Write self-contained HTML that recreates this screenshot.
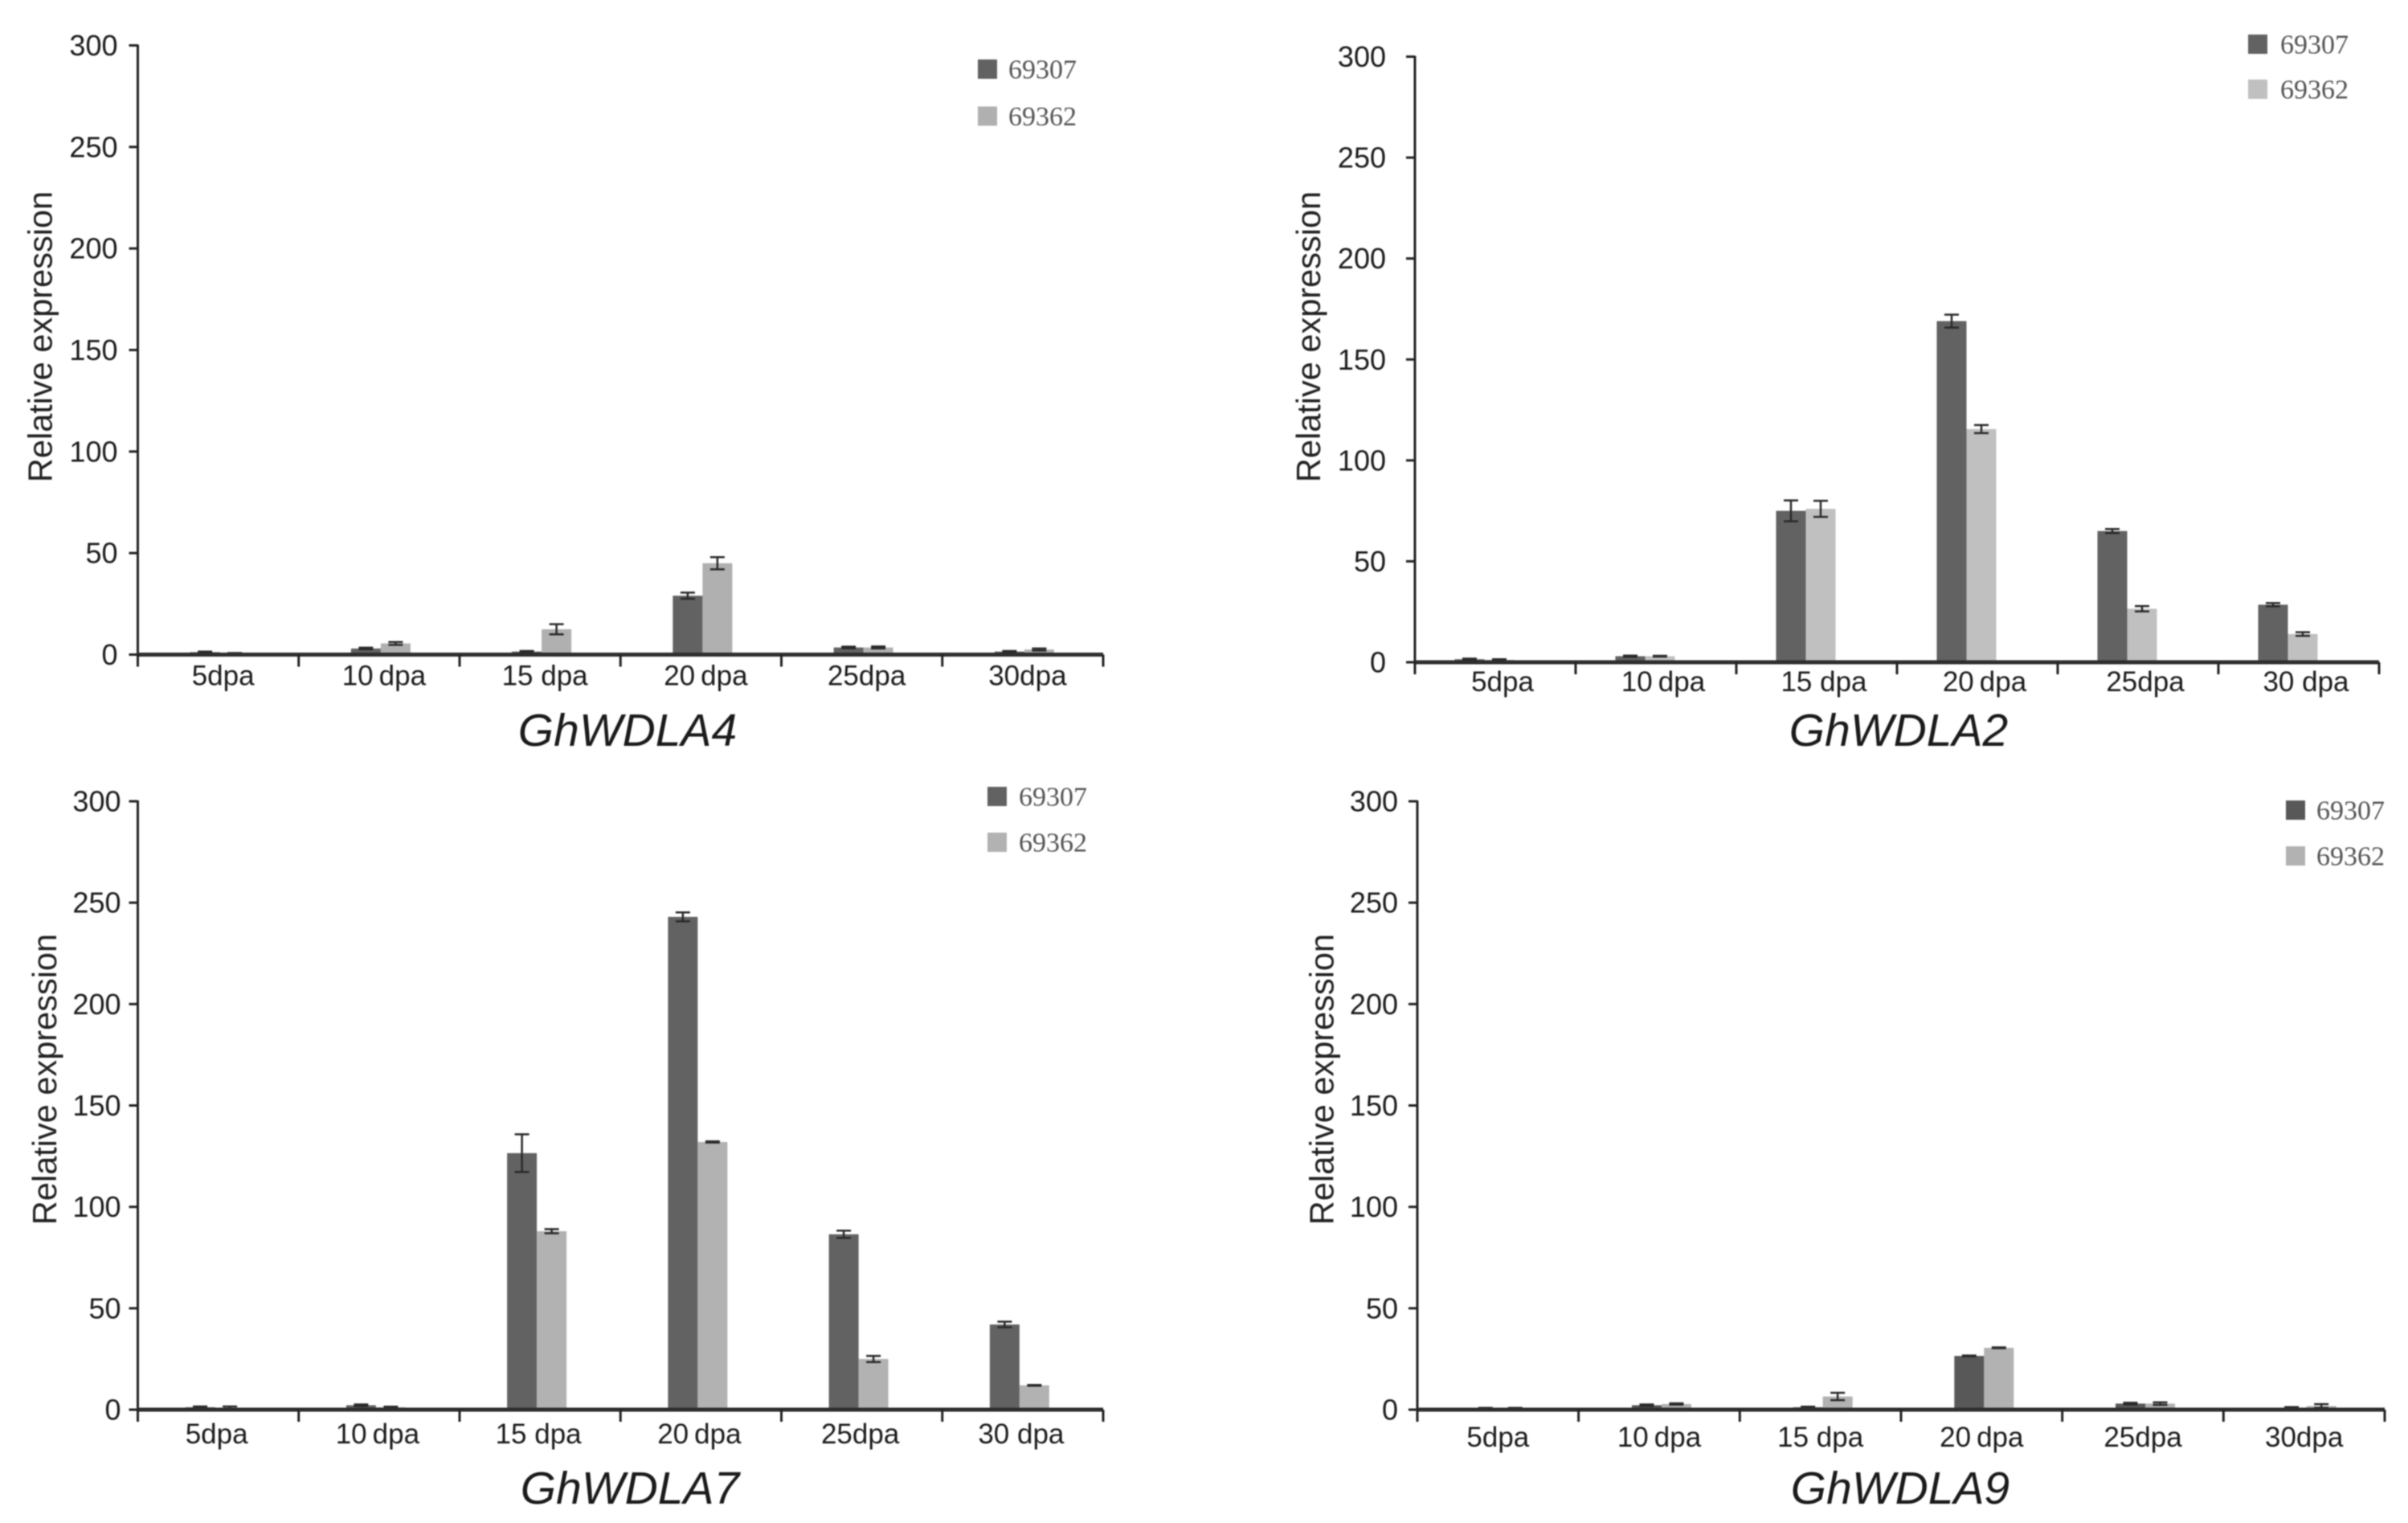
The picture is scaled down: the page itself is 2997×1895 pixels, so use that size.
<!DOCTYPE html>
<html lang="en">
<head>
<meta charset="utf-8">
<title>Relative expression of GhWDLA genes</title>
<style>
html,body{margin:0;padding:0;background:#fff;width:2997px;height:1895px;overflow:hidden}
svg{display:block;filter:blur(.9px)}
text{font-family:"Liberation Sans",sans-serif}
</style>
</head>
<body>
<svg id="figure" xmlns="http://www.w3.org/2000/svg" width="2997" height="1895" viewBox="0 0 2997 1895"></svg>
<script>
const seriesNames = ['69307', '69362'];
const yTickValues = [0, 50, 100, 150, 200, 250, 300];
const yTitle = 'Relative expression';

const categoriesA4 = ['5dpa', '10\u2009dpa', '15 dpa', '20\u2009dpa', '25dpa', '30dpa'];
const darkA4 = [1.2, 3, 1.5, 29, 3.5, 1.5];
const lightA4 = [0.6, 5.5, 12.5, 45, 3.5, 2.5];
const darkErrA4 = [0.3, 0.4, 0.3, 1.5, 0.4, 0.3];
const lightErrA4 = [0.2, 0.7, 2.5, 3, 0.5, 0.5];

const categoriesA2 = ['5dpa', '10\u2009dpa', '15 dpa', '20\u2009dpa', '25dpa', '30 dpa'];
const darkA2 = [1.5, 3, 75, 169, 65, 28.5];
const lightA2 = [1.2, 3, 76, 115.5, 26.5, 14];
const darkErrA2 = [0.3, 0.3, 5.2, 3.2, 1, 0.8];
const lightErrA2 = [0.3, 0.2, 4, 2, 1.3, 0.9];

const categoriesA7 = ['5dpa', '10\u2009dpa', '15 dpa', '20\u2009dpa', '25dpa', '30 dpa'];
const darkA7 = [1.2, 2.2, 126.5, 243, 86.5, 42];
const lightA7 = [1, 1.2, 88, 132, 25, 12];
const darkErrA7 = [0.4, 0.4, 9.3, 2.2, 1.8, 1.4];
const lightErrA7 = [0.6, 0.3, 1, 0.3, 1.5, 0.2];

const categoriesA9 = ['5dpa', '10\u2009dpa', '15 dpa', '20\u2009dpa', '25dpa', '30dpa'];
const darkA9 = [0.7, 2.2, 1.2, 26.5, 3, 1];
const lightA9 = [0.6, 2.8, 6.5, 30.5, 3, 1.8];
const darkErrA9 = [0.2, 0.4, 0.3, 0.2, 0.4, 0.3];
const lightErrA9 = [0.3, 0.3, 1.8, 0.2, 0.6, 0.9];

const panels = [
  {key:'ghwdla4', title:'GhWDLA4', cats:categoriesA4, dark:darkA4, light:lightA4, darkErr:darkErrA4, lightErr:lightErrA4,
   x0:171.5, x1:1373, yTop:56.5, yZero:814.5, barShift:2, labelShift:6, labelDy:38, tickGap:25, yTitleX:50, yTitleY:419,
   titleX:781, titleY:928, legX:1217, legY1:86, legY2:144.5, legTextX:1255, darkFill:'#626262', lightFill:'#b0b0b0'},
  {key:'ghwdla2', title:'GhWDLA2', cats:categoriesA2, dark:darkA2, light:lightA2, darkErr:darkErrA2, lightErr:lightErrA2,
   x0:1761, x1:2961, yTop:70.5, yZero:824, barShift:-13.5, labelShift:9, labelDy:36, tickGap:36, yTitleX:1628.5, yTitleY:419,
   titleX:2363, titleY:928, legX:2798, legY1:55, legY2:111, legTextX:2838, darkFill:'#626262', lightFill:'#c0c0c0'},
  {key:'ghwdla7', title:'GhWDLA7', cats:categoriesA7, dark:darkA7, light:lightA7, darkErr:darkErrA7, lightErr:lightErrA7,
   x0:171.5, x1:1373, yTop:997, yZero:1754, barShift:-4, labelShift:-2, labelDy:42, tickGap:21, yTitleX:55.5, yTitleY:1343,
   titleX:784, titleY:1871, legX:1229, legY1:991, legY2:1048, legTextX:1268, darkFill:'#626262', lightFill:'#b2b2b2'},
  {key:'ghwdla9', title:'GhWDLA9', cats:categoriesA9, dark:darkA9, light:lightA9, darkErr:darkErrA9, lightErr:lightErrA9,
   x0:1764, x1:2968, yTop:997, yZero:1754, barShift:3, labelShift:0, labelDy:46, tickGap:24, yTitleX:1645, yTitleY:1343,
   titleX:2365, titleY:1871, legX:2845, legY1:1008, legY2:1065, legTextX:2883, darkFill:'#585858', lightFill:'#b2b2b2'}
];

const BAR_W = 37;
const INK = '#222222';
const NS = 'http://www.w3.org/2000/svg';
const figure = document.getElementById('figure');

function svgEl(tag, attrs, parent) {
  const node = document.createElementNS(NS, tag);
  for (const k in attrs) node.setAttribute(k, attrs[k]);
  parent.appendChild(node);
  return node;
}

function drawPanel(p) {
  const g = svgEl('g', {}, figure);
  
  

  const yScale = v => p.yZero - (v / 300) * (p.yZero - p.yTop);
  const band = (p.x1 - p.x0) / p.cats.length;
  const xCenter = i => p.x0 + band * (i + 0.5);

  // bars and error bars
  p.cats.forEach((cat, i) => {
    const cx = xCenter(i) + p.barShift;
    [[p.dark, p.darkErr, p.darkFill, -BAR_W, seriesNames[0]],
     [p.light, p.lightErr, p.lightFill, 0, seriesNames[1]]].forEach(s => {
      const v = s[0][i], e = s[1][i];
      const bar = svgEl('rect', {x: cx + s[3], y: yScale(v), width: BAR_W, height: p.yZero - yScale(v), fill: s[2]}, g);
      
      
      const mx = cx + s[3] + BAR_W / 2;
      const err = svgEl('path', {
        d: 'M' + mx + ' ' + yScale(v + e) + 'V' + yScale(v - e) +
           'M' + (mx - 9) + ' ' + yScale(v + e) + 'H' + (mx + 9) +
           'M' + (mx - 9) + ' ' + yScale(v - e) + 'H' + (mx + 9),
        stroke: '#2a2a2a', 'stroke-width': 2.5, fill: 'none'
      }, g);
      
      
    });
  });

  // y axis
  const yAxis = svgEl('line', {x1: p.x0, x2: p.x0, y1: p.yTop - 1, y2: p.yZero + 14, stroke: INK, 'stroke-width': 3}, g);
  
  
  yTickValues.forEach(v => {
    const tick = svgEl('line', {x1: p.x0 - 11, x2: p.x0, y1: yScale(v), y2: yScale(v), stroke: INK, 'stroke-width': 3}, g);
    
    
    const label = svgEl('text', {x: p.x0 - p.tickGap, y: yScale(v) + 12.5, 'text-anchor': 'end', 'font-size': 36, fill: '#1c1c1c'}, g);
    label.textContent = String(v);
    
    
  });

  // x axis
  const xAxis = svgEl('line', {x1: p.x0, x2: p.x1, y1: p.yZero, y2: p.yZero, stroke: '#2e2e2e', 'stroke-width': 5}, g);
  
  
  for (let i = 0; i <= p.cats.length; i++) {
    const tx = p.x0 + band * i;
    const tick = svgEl('line', {x1: tx, x2: tx, y1: p.yZero, y2: p.yZero + 15, stroke: INK, 'stroke-width': 3}, g);
    
    
  }
  p.cats.forEach((cat, i) => {
    const label = svgEl('text', {x: xCenter(i) + p.labelShift, y: p.yZero + p.labelDy, 'text-anchor': 'middle', 'font-size': 35, fill: '#1c1c1c'}, g);
    label.textContent = cat;
    
    
  });

  // y title
  const yt = svgEl('text', {
    x: 0, y: 0, 'text-anchor': 'middle', 'dominant-baseline': 'central', 'font-size': 41.5, fill: '#222222',
    transform: 'translate(' + p.yTitleX + ' ' + p.yTitleY + ') rotate(-90)'
  }, g);
  yt.textContent = yTitle;
  
  

  // chart title
  const title = svgEl('text', {x: p.titleX, y: p.titleY, 'text-anchor': 'middle', 'font-size': 57, 'font-style': 'italic', fill: '#1a1a1a'}, g);
  title.textContent = p.title;
  
  

  // legend
  [[p.legY1, p.darkFill, seriesNames[0]], [p.legY2, p.lightFill, seriesNames[1]]].forEach(row => {
    const swatch = svgEl('rect', {x: p.legX, y: row[0] - 12, width: 24, height: 24, fill: row[1]}, g);
    
    
    const text = svgEl('text', {x: p.legTextX, y: row[0] + 11.5, 'font-size': 34, fill: '#555555', style: 'font-family:"Liberation Serif",serif'}, g);
    text.textContent = row[2];
    
    
  });
}

panels.forEach(drawPanel);
</script>
</body>
</html>
